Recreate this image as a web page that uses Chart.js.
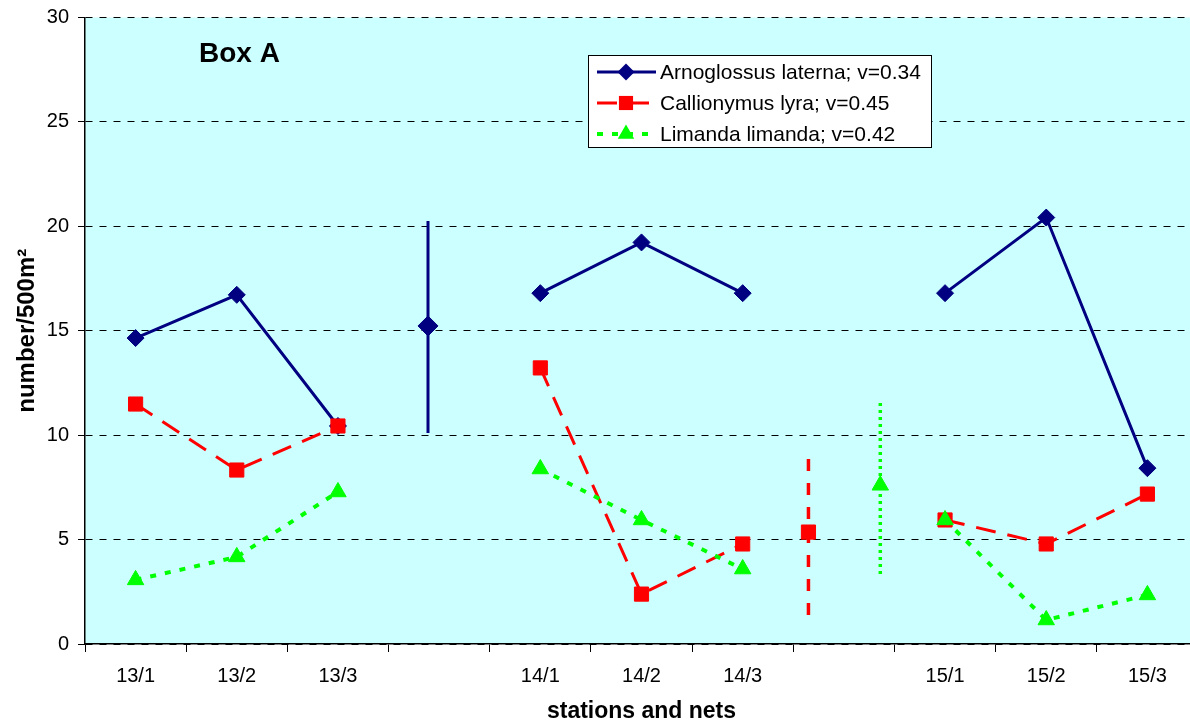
<!DOCTYPE html>
<html>
<head>
<meta charset="utf-8">
<script src="https://cdn.jsdelivr.net/npm/chart.js@4/dist/chart.umd.min.js"></script>
<style>
  html, body { margin: 0; padding: 0; background: #fff; overflow: hidden; }
  #wrap { width: 1209px; height: 722px; }
</style>
</head>
<body>
<div id="wrap"><canvas id="grafico" width="1209" height="722"></canvas></div>
<script>
// stations / nets, empty slots separate the boxes
const estacoes = ['13/1', '13/2', '13/3', '', '14/1', '14/2', '14/3', '', '15/1', '15/2', '15/3']

const arnoglossus = [14.65, 16.72, 10.44, null, 16.8, 19.23, 16.8, null, 16.8, 20.42, 8.42]
const callionymus = [11.49, 8.33, 10.44, null, 13.22, 2.39, 4.79, null, 5.94, 4.79, 7.18]
const limanda = [3.07, 4.17, 7.28, null, 8.38, 5.94, 3.59, null, 5.94, 1.15, 2.35]

// mean +/- spread per species (arnoglossus, callionymus, limanda)
const mediaPos = [2.89, 6.65, 7.36]
const mediaValor = [15.23, 5.36, 7.6]
const mediaMin = [10.1, 1.39, 3.35]
const mediaMax = [20.26, 9.05, 11.54]

const nomes = ['Arnoglossus laterna; v=0.34', 'Callionymus lyra; v=0.45', 'Limanda limanda; v=0.42']
const yTicks = [0, 5, 10, 15, 20, 25, 30]

const estilos = [
  { cor: '#000080', ponto: 'rectRot', raio: 8.5, dash: [], largura: 3 },
  { cor: '#FF0000', ponto: 'rect', raio: 10, dash: [20, 12], largura: 3 },
  { cor: '#00FF00', ponto: 'triangle', raio: 9.5, dash: [6, 9], largura: 4 }
]
// the spread bars use their own dash
const dashBarra = [[], [12, 12], [3, 4]]

const FONTE = "'Liberation Sans', Arial, sans-serif"

const serie = (i, valores) => ({
  type: 'line',
  label: nomes[i],
  data: valores,
  xAxisID: 'x',
  borderColor: estilos[i].cor,
  backgroundColor: estilos[i].cor,
  borderWidth: estilos[i].largura,
  borderDash: estilos[i].dash,
  pointStyle: estilos[i].ponto,
  pointRadius: estilos[i].raio,
  pointBorderWidth: 1,
  pointBackgroundColor: estilos[i].cor,
  pointBorderColor: estilos[i].cor,
  tension: 0,
  spanGaps: false,
  order: 2 - i
})

const barra = (i) => ({
  type: 'line',
  label: 'media ' + i,
  data: [
    { x: mediaPos[i], y: mediaMin[i] },
    { x: mediaPos[i], y: mediaValor[i] },
    { x: mediaPos[i], y: mediaMax[i] }
  ],
  xAxisID: 'x2',
  borderColor: estilos[i].cor,
  backgroundColor: estilos[i].cor,
  borderWidth: i == 0 ? 3 : 3.5,
  borderDash: dashBarra[i],
  pointStyle: estilos[i].ponto,
  pointRadius: [0, i == 0 ? 10 : estilos[i].raio, 0],
  pointBorderWidth: 1,
  pointBackgroundColor: estilos[i].cor,
  pointBorderColor: estilos[i].cor,
  order: 2 - i
})

const desenhaMarcador = (ctx, tipo, x, y, r) => {
  ctx.beginPath()
  if (tipo == 'rectRot') {
    ctx.moveTo(x - r, y); ctx.lineTo(x, y - r); ctx.lineTo(x + r, y); ctx.lineTo(x, y + r)
  } else if (tipo == 'rect') {
    const s = r * Math.SQRT1_2
    ctx.rect(x - s, y - s, 2 * s, 2 * s)
  } else {
    ctx.moveTo(x, y - r); ctx.lineTo(x + r * 0.866, y + r / 2); ctx.lineTo(x - r * 0.866, y + r / 2)
  }
  ctx.closePath()
  ctx.fill()
}

// cyan plot background
const fundo = {
  id: 'fundo',
  beforeDraw: (chart) => {
    const { ctx, chartArea } = chart
    ctx.save()
    ctx.fillStyle = '#CCFFFF'
    ctx.fillRect(chartArea.left, chartArea.top, chartArea.right - chartArea.left, chartArea.bottom - chartArea.top)
    ctx.restore()
  }
}

// "Box A" label and the boxed legend inside the plot
const legendaBox = {
  id: 'legendaBox',
  afterDraw: (chart) => {
    const ctx = chart.ctx
    ctx.save()
    ctx.fillStyle = '#000'
    ctx.font = `bold 28px ${FONTE}`
    ctx.textBaseline = 'alphabetic'
    ctx.fillText('Box A', 199, 62)

    ctx.fillStyle = '#fff'
    ctx.fillRect(588, 55, 344, 93)
    ctx.strokeStyle = '#000'
    ctx.lineWidth = 1
    ctx.strokeRect(588.5, 55.5, 343, 92)

    const linhas = [72, 103, 134]
    for (let i = 0; i < nomes.length; i++) {
      const y = linhas[i]
      ctx.strokeStyle = estilos[i].cor
      ctx.fillStyle = estilos[i].cor
      ctx.lineWidth = estilos[i].largura
      ctx.setLineDash(estilos[i].dash)
      ctx.beginPath()
      ctx.moveTo(597, y)
      ctx.lineTo(656, y)
      ctx.stroke()
      ctx.setLineDash([])
      desenhaMarcador(ctx, estilos[i].ponto, 626, y, estilos[i].raio)

      ctx.fillStyle = '#000'
      ctx.font = `21px ${FONTE}`
      ctx.textBaseline = 'middle'
      ctx.fillText(nomes[i], 660, y + 1)
    }
    ctx.restore()
  }
}

const grafico = new Chart(document.getElementById('grafico'), {
  data: {
    labels: estacoes,
    datasets: [
      serie(0, arnoglossus),
      serie(1, callionymus),
      serie(2, limanda),
      barra(0),
      barra(1),
      barra(2)
    ]
  },
  options: {
    responsive: false,
    animation: false,
    devicePixelRatio: 1,
    layout: { padding: { top: 17.5, left: 0, right: 0, bottom: 0 } },
    plugins: {
      legend: { display: false },
      tooltip: { enabled: false }
    },
    scales: {
      x: {
        type: 'category',
        offset: true,
        grid: { display: true, offset: true, drawOnChartArea: false, tickLength: 8, color: '#000', tickBorderDash: [] },
        border: { color: '#000', width: 1.5 },
        ticks: { color: '#000', font: { family: FONTE, size: 20 }, padding: 12, maxRotation: 0, autoSkip: false },
        title: { display: true, text: 'stations and nets', color: '#000', font: { family: FONTE, size: 23, weight: 'bold', lineHeight: 1 }, padding: { top: 0, bottom: -1 } },
        afterFit: (scale) => { scale.height = 78 }
      },
      x2: {
        type: 'linear',
        display: false,
        min: -0.5,
        max: 10.5
      },
      y: {
        min: 0,
        max: 30,
        afterBuildTicks: (scale) => { scale.ticks = yTicks.map(v => ({ value: v })) },
        grid: { color: '#000', tickLength: 7, tickBorderDash: [] },
        border: { color: '#000', width: 1.5, dash: [7, 7] },
        ticks: { color: '#000', font: { family: FONTE, size: 20 }, padding: 9 },
        title: { display: true, text: 'number/500m²', color: '#000', font: { family: FONTE, size: 24, weight: 'bold', lineHeight: 1 }, padding: { top: 15, bottom: 0 } },
        afterFit: (scale) => {
          scale.width = 85
          // the "30" label may run above the plot, the layout padding already leaves room
          scale.paddingTop = 0
          scale.paddingBottom = 0
        }
      }
    }
  },
  plugins: [fundo, legendaBox]
})
</script>
</body>
</html>
